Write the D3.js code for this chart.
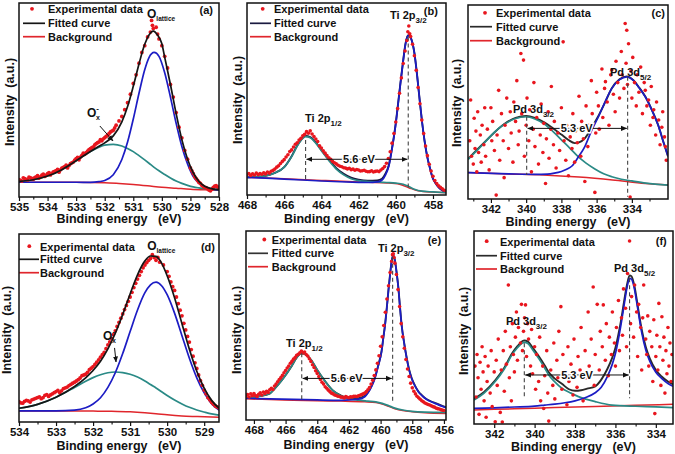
<!DOCTYPE html>
<html><head><meta charset="utf-8">
<script src="https://cdn.jsdelivr.net/npm/d3@7"></script>
<style>
html,body{margin:0;padding:0;background:#fff;}
svg{display:block;font-family:"Liberation Sans",Arial,Helvetica,sans-serif;font-weight:bold;}
</style></head><body>
<svg id="chart" width="675" height="454"></svg>
<script>
// ---------------- DATA (binding energy eV, intensity % of frame) ----------------
const aTicks=[535,534,533,532,531,530,529,528];
const aMinor=[534.5,533.5,532.5,531.5,530.5,529.5,528.5];
const aExp=[[535.0,9.0],[534.9,8.2],[534.8,9.5],[534.7,8.8],[534.6,9.9],[534.5,9.2],[534.4,10.4],[534.3,9.8],[534.2,11.2],[534.1,10.6],[534.0,12.0],[533.9,11.4],[533.8,12.9],[533.7,13.6],[533.6,12.8],[533.5,14.9],[533.4,15.6],[533.3,15.0],[533.2,17.2],[533.1,18.0],[533.0,19.8],[532.9,19.2],[532.8,21.4],[532.7,22.0],[532.6,23.6],[532.5,24.9],[532.4,25.8],[532.3,27.5],[532.2,28.4],[532.1,29.0],[532.0,30.6],[531.9,31.8],[531.8,33.5],[531.7,34.4],[531.6,37.0],[531.5,39.2],[531.4,41.5],[531.3,45.0],[531.2,48.6],[531.1,53.0],[531.0,58.5],[530.9,63.0],[530.8,69.0],[530.7,74.5],[530.6,78.0],[530.5,82.5],[530.4,85.0],[530.36,91.0],[530.33,88.5],[530.3,86.8],[530.2,87.5],[530.15,84.0],[530.1,81.5],[530.0,78.0],[529.9,72.5],[529.8,66.5],[529.7,58.0],[529.6,51.5],[529.5,43.5],[529.4,36.0],[529.3,30.5],[529.2,24.0],[529.1,19.5],[529.0,15.0],[528.9,12.0],[528.8,9.5],[528.7,7.5],[528.6,6.0],[528.5,5.0],[528.4,4.2],[528.3,3.2],[528.2,5.0],[528.1,5.8],[528.0,4.6],
[534.95,8.6],[534.85,9.9],[534.75,9.1],[534.65,10.2],[534.55,9.6],[534.45,10.0],[534.35,11.0],[534.25,10.4],[534.15,11.8],[534.05,11.2],[533.95,12.6],[533.85,12.2],[533.75,13.2],[533.65,14.2],[533.55,14.0],[533.45,15.2],[533.35,16.4],[533.25,16.2],[533.15,17.6],[533.05,19.0],[532.95,20.4],[532.85,20.6],[532.75,22.6],[532.65,22.8],[532.55,24.4],[532.45,25.4],[532.35,26.8],[532.25,28.0],[532.15,29.6],[532.05,30.0],[531.95,31.2],[531.85,32.6],[531.75,34.0],[531.65,35.6],[528.95,13.5],[528.85,10.5],[528.75,8.5],[528.65,7.0],[528.55,5.4],[528.45,4.8],[528.35,3.6],[528.25,4.0],[528.15,5.6],[528.05,5.2]];
const aBg=[[535,7.6],[534,7.6],[533,7.6],[532.5,7.5],[532,7.3],[531.5,7.0],[531,6.5],[530.5,5.8],[530,5.0],[529.5,4.5],[529,4.0],[528.5,3.7],[528,3.5]];
const aPeakX=[[535,8.1],[534.5,8.9],[534,10.8],[533.5,14.1],[533,18.7],[532.5,23.5],[532.2,25.7],[532,26.7],[531.7,27.1],[531.4,26.3],[531.2,25.0],[531,23.4],[530.8,21.3],[530.6,19.1],[530.45,17.4],[530.27,15.3],[530.1,13.5],[529.9,11.6],[529.7,9.8],[529.5,8.2],[529.3,7.0],[529.1,6.0],[528.9,5.2],[528.7,4.7],[528.5,4.3],[528.2,3.9],[528,3.7]];
const aPeakL=[[535,7.6],[533,7.6],[532.5,7.5],[532.2,7.9],[532,8.5],[531.7,11.5],[531.4,19.3],[531.2,28.3],[531,40.2],[530.8,53.5],[530.6,65.6],[530.45,71.9],[530.27,74.5],[530.1,72.5],[529.9,64],[529.7,51.5],[529.5,38],[529.3,26],[529.1,17],[528.9,10.5],[528.7,7],[528.5,5],[528.2,3.9],[528,3.6]];
const aFit=[[535,8.1],[534.5,8.9],[534,10.8],[533.5,14.1],[533,18.7],[532.5,23.5],[532.2,26.2],[532,27.9],[531.7,31.5],[531.4,38.7],[531.2,46.6],[531,57.1],[530.8,68.6],[530.6,78.7],[530.45,83.5],[530.3,85.5],[530.15,83.5],[530,79],[529.9,72],[529.7,58],[529.5,43],[529.3,29.5],[529.1,19.5],[528.9,12.5],[528.7,8],[528.5,5.5],[528.2,4.1],[528,3.8]];

const bTicks=[468,466,464,462,460,458];
const bMinor=[467,465,463,461,459];
const bExp=[[468.0,10.5],[467.9,11.2],[467.8,10.2],[467.7,11.0],[467.6,10.4],[467.5,11.4],[467.4,10.6],[467.3,11.2],[467.2,10.8],[467.1,11.6],[467.0,11.0],[466.9,12.0],[466.8,11.4],[466.7,12.4],[466.6,12.8],[466.5,13.5],[466.4,14.5],[466.3,15.2],[466.2,16.4],[466.1,17.5],[466.0,18.4],[465.9,19.8],[465.8,21.0],[465.7,22.6],[465.6,23.5],[465.5,25.0],[465.4,26.4],[465.3,27.2],[465.2,28.6],[465.1,29.5],[465.0,30.8],[464.9,31.6],[464.8,33.0],[464.7,32.2],[464.6,33.4],[464.5,31.8],[464.4,30.5],[464.3,29.2],[464.2,27.8],[464.1,25.6],[464.0,24.5],[463.9,23.0],[463.8,21.8],[463.7,20.5],[463.6,19.4],[463.5,18.6],[463.4,17.5],[463.3,16.8],[463.2,16.2],[463.1,15.5],[463.0,15.0],[462.9,14.7],[462.8,14.2],[462.7,14.0],[462.6,13.6],[462.5,13.9],[462.4,13.2],[462.3,13.5],[462.2,12.9],[462.1,13.3],[462.0,13.0],[461.9,12.5],[461.8,12.6],[461.7,12.9],[461.6,12.4],[461.5,12.1],[461.4,12.2],[461.3,12.6],[461.2,12.0],[461.1,12.3],[461.0,12.5],[460.9,12.2],[460.8,13.0],[460.7,13.8],[460.6,14.8],[460.5,16.5],[460.4,19.0],[460.3,22.5],[460.2,27.0],[460.1,32.0],[460.0,38.0],[459.9,45.0],[459.8,53.0],[459.7,61.0],[459.6,68.5],[459.5,75.0],[459.4,80.5],[459.35,85.0],[459.3,88.0],[459.25,84.0],[459.2,82.5],[459.1,78.5],[459.0,72.5],[458.9,65.0],[458.8,56.0],[458.7,47.5],[458.6,39.0],[458.5,32.0],[458.4,25.5],[458.3,20.5],[458.2,16.0],[458.1,12.5],[458.0,9.8],[457.9,7.5],[457.8,6.0],[457.7,4.8],[457.6,4.0],[457.5,3.2],[457.4,2.5],[457.3,2.2]];
const bBg=[[468,9.2],[466,8.5],[464,7.6],[462,6.8],[460.5,6.3],[459.8,5.6],[459.3,3.8],[458.8,2.2],[458,1.5],[457.3,1.2]];
const bPeak12=[[468,9.2],[467,10.0],[466.5,11.5],[466,14.5],[465.6,20],[465.3,25.5],[465.0,29.5],[464.85,30.4],[464.6,29.8],[464.3,27],[464.0,23],[463.6,18],[463.2,13.5],[462.8,10.5],[462.4,8.5],[462,7.5],[461.5,7.0],[461,6.8],[460.5,6.5],[460,6.2],[459.6,5.6],[459.3,4.4],[459.0,3.0],[458.6,2.0],[458,1.6],[457.3,1.2]];
const bPeak32=[[468,9.2],[467,8.8],[466,8.3],[465,7.8],[464,7.3],[463,6.9],[462,6.6],[461.5,6.5],[461,6.8],[460.74,7.8],[460.55,10.5],[460.38,14.8],[460.2,24],[460.02,35.6],[459.88,47],[459.75,58],[459.6,70],[459.48,78.5],[459.33,83],[459.18,81.5],[459.0,74],[458.85,62],[458.7,48],[458.58,37.5],[458.45,28],[458.31,20],[458.15,13.5],[458.04,9.5],[457.85,6],[457.68,3.8],[457.5,2.4],[457.3,1.7]];
const bFit=[[468,9.2],[467,10.0],[466.5,11.5],[466,14.5],[465.6,20.2],[465.3,25.8],[465.0,29.8],[464.85,30.7],[464.6,30.2],[464.3,27.4],[464.0,23.5],[463.6,18.5],[463.2,14],[462.8,11],[462.4,9.0],[462,8],[461.5,7.5],[461,7.6],[460.74,8.5],[460.55,11.2],[460.38,15.4],[460.2,24.5],[460.02,36],[459.88,47.3],[459.75,58.3],[459.6,70.2],[459.48,78.7],[459.33,83.2],[459.18,81.6],[459.0,74],[458.85,62],[458.7,48],[458.58,37.5],[458.45,28],[458.31,20],[458.15,13.5],[458.04,9.5],[457.85,6],[457.68,3.8],[457.5,2.4],[457.3,1.7]];

const cTicks=[342,340,338,336,334];
const cMinor=[343,341,339,337,335,333];
const cExp=[[343.2,30],[343.15,51],[343.1,22],[343.0,18],[342.95,41.6],[342.9,26],[342.85,35],[342.8,14],[342.75,45],[342.7,24],[342.6,33],[342.55,19],[342.5,38],[342.4,28],[342.35,47],[342.3,22],[342.2,36],[342.1,15],[342.0,47],[341.95,30],[341.9,40],[341.8,25],[341.7,2],[341.65,33],[341.56,56],[341.5,20],[341.4,44],[341.3,30],[341.25,11],[341.2,38],[341.1,52],[341.0,26],[340.9,45],[340.85,34],[340.75,19],[340.7,50],[340.6,40],[340.53,61],[340.45,28],[340.4,35],[340.3,75],[340.25,44],[340.15,71.6],[340.1,22],[340.0,38],[339.95,52],[339.85,30],[339.8,46],[339.7,14],[339.6,36],[339.56,60],[339.5,27],[339.4,42],[339.3,18],[339.2,33],[339.15,49],[339.05,24],[339.0,39],[338.9,8],[338.85,31],[338.75,45],[338.7,21],[338.6,36],[338.57,58],[338.45,28],[338.4,40],[338.3,16],[338.2,34],[338.1,25],[338.0,47],[337.9,81],[337.85,30],[337.75,20],[337.7,38],[337.6,12],[337.5,32],[337.4,26],[337.35,44],[337.25,19],[337.2,35],[337.1,29],[337.0,53],[336.9,22],[336.85,40],[336.75,31],[336.67,9],[336.6,48],[336.5,27],[336.45,38],[336.3,61],[336.25,44],[336.1,3.4],[336.05,34],[336.0,55],[335.9,48],[335.85,36],[335.7,67],[335.65,42],[335.55,57],[335.5,60.5],[335.4,50],[335.3,38],[335.2,64],[335.14,66.5],[335.05,54],[334.95,45],[334.9,71],[334.8,60],[334.7,52],[334.6,76],[334.55,64],[334.45,57],[334.38,90.5],[334.33,70],[334.29,87],[334.25,59],[334.19,80],[334.1,1],[334.05,66],[334.0,52],[333.95,73],[333.85,60],[333.75,48],[333.7,64],[333.6,55],[333.5,68],[333.4,44],[333.3,60],[333.24,56],[333.15,48],[333.05,51],[332.95,38],[332.9,58],[332.8,42],[332.76,46],[332.65,33],[332.6,50],[332.48,40.7],[332.4,28],[332.3,37],[332.25,45],[332.15,32],[332.1,27],[332.05,20]];
const cBg=[[343.3,13.6],[341,12.9],[339,12.4],[337,11.3],[335.1,9.8],[333.24,8.0],[331.95,7.2]];
const cPeak32=[[343.3,20.4],[342.9,24],[342.4,28.7],[341.8,34.5],[341.24,38.5],[340.6,41.5],[340.0,42.4],[339.5,41.2],[338.95,38.5],[338.5,35],[338.0,30.5],[337.5,26],[337.05,21.8],[336.6,18.5],[336.1,15.5],[335.6,13],[335.14,11.5],[334.6,10.2],[334,9.3],[333.2,8.2],[331.95,7.2]];
const cPeak52=[[343.3,13.6],[341,13.0],[339.5,12.7],[338.8,12.8],[338.4,13.3],[338.0,14.2],[337.7,15.3],[337.4,17.0],[337.05,21.5],[336.67,27],[336.3,35],[335.9,42.4],[335.5,50.5],[335.14,57],[334.7,61.5],[334.29,63],[333.9,61],[333.6,57.5],[333.24,52.7],[332.85,45.5],[332.48,37.3],[332.2,29],[331.95,22]];
const cFit=[[343.3,20.6],[342.4,28.9],[341.24,38.7],[340.6,41.8],[340.0,42.8],[339.5,41.8],[338.95,39.4],[338.5,36.6],[338.0,33.2],[337.6,30.4],[337.24,28.8],[337.0,29.2],[336.67,31.3],[336.3,36.5],[335.9,42.8],[335.5,50.2],[335.14,57.1],[334.7,61.7],[334.29,63.2],[333.9,61.1],[333.6,57.6],[333.24,52.8],[332.85,45.6],[332.48,37.4],[332.2,29.1],[331.95,22]];

const dTicks=[534,533,532,531,530,529];
const dMinor=[533.5,532.5,531.5,530.5,529.5];
const dExp=[[534.0,10.8],[533.9,10.0],[533.8,11.5],[533.7,10.6],[533.6,12.2],[533.5,13.0],[533.4,12.4],[533.3,14.2],[533.2,13.6],[533.1,15.0],[533.0,16.2],[532.9,15.6],[532.8,17.8],[532.7,18.6],[532.6,20.0],[532.5,21.2],[532.4,22.5],[532.3,24.6],[532.2,25.4],[532.1,27.8],[532.0,29.5],[531.9,31.8],[531.8,34.5],[531.7,37.0],[531.6,41.0],[531.5,44.5],[531.4,48.5],[531.3,53.0],[531.2,57.5],[531.1,62.0],[531.0,66.5],[530.9,71.5],[530.8,76.0],[530.7,80.0],[530.6,83.5],[530.5,86.0],[530.4,89.0],[530.35,87.5],[530.3,86.0],[530.25,87.5],[530.2,85.0],[530.1,83.5],[530.0,80.0],[529.9,74.5],[529.8,70.0],[529.7,63.0],[529.6,56.5],[529.5,49.0],[529.4,42.5],[529.3,35.0],[529.2,28.5],[529.1,22.0],[529.0,17.0],[528.9,13.0],[528.8,10.5],[528.7,8.5],[528.6,7.5],
[533.95,10.2],[533.85,11.0],[533.75,11.2],[533.65,11.8],[533.55,12.6],[533.45,13.4],[533.35,13.0],[533.25,14.6],[533.15,14.4],[533.05,15.6],[532.95,16.8],[532.85,16.6],[532.75,18.2],[532.65,19.4],[532.55,20.6],[532.45,21.8],[532.35,23.4],[532.25,25.0],[532.15,26.4],[532.05,28.6],[531.95,30.6],[531.85,33.0],[531.75,35.8],[531.65,39.0],[531.55,42.6],[531.45,46.5],[531.35,50.8],[531.25,55.2],[531.15,59.8],[531.05,64.2],[530.95,69.0],[530.85,73.8],[530.75,78.0],[530.65,82.0],[530.55,84.8],[530.45,87.0],[529.95,77.5],[529.85,72.0],[529.75,66.5],[529.65,59.5],[529.55,52.5],[529.45,45.5],[529.35,38.5],[529.25,31.5],[529.15,25.0],[529.05,19.5],[528.95,15.0],[528.85,11.8],[528.75,9.5],[528.65,8.0]];
const dBg=[[534,5.9],[533,5.9],[532,5.8],[531.5,5.7],[531,5.4],[530.6,4.9],[530.3,4.4],[530,3.8],[529.6,3.2],[529.2,2.9],[528.6,2.5]];
const dPeakX=[[534,7.3],[533.5,9.4],[533,13.2],[532.5,18.4],[532.2,21.7],[532,23.6],[531.8,25.1],[531.6,26.2],[531.4,26.6],[531.2,26.3],[531,25.4],[530.8,23.9],[530.6,21.8],[530.45,19.9],[530.3,18.1],[530.15,16.1],[530,14.1],[529.8,11.7],[529.6,9.6],[529.4,7.8],[529.2,6.4],[529,5.3],[528.8,4.3],[528.6,3.6]];
const dPeakL=[[534,5.9],[533,5.9],[532.5,6.3],[532.2,7.6],[532,9.6],[531.8,12.9],[531.6,18.4],[531.4,26.2],[531.2,36.4],[531,48.1],[530.8,59.6],[530.6,68.8],[530.45,73.0],[530.3,74.4],[530.15,72.5],[530,67.7],[529.8,57.9],[529.6,45.9],[529.4,33.9],[529.2,23.5],[529,15.5],[528.8,9.8],[528.6,6.3]];
const dFit=[[534,7.3],[533.5,9.4],[533,13.2],[532.5,18.9],[532.2,23.5],[532,27.4],[531.8,32.3],[531.6,38.9],[531.4,47.2],[531.2,57.2],[531,68.1],[530.8,78.3],[530.6,85.7],[530.45,88.3],[530.3,88.1],[530.15,84.5],[530,77.8],[529.8,66.1],[529.6,52.3],[529.4,38.7],[529.2,27.0],[529,18.0],[528.8,11.5],[528.6,7.4]];

const eTicks=[468,466,464,462,460,458,456];
const eMinor=[467,465,463,461,459,457];
const eExp=[[468.5,12.5],[468.4,13.5],[468.3,12.2],[468.2,13.8],[468.1,12.8],[468.0,14.0],[467.9,13.0],[467.8,12.4],[467.7,13.6],[467.6,14.4],[467.5,13.2],[467.4,14.8],[467.3,14.0],[467.2,15.2],[467.1,14.6],[467.0,16.0],[466.9,16.8],[466.8,16.2],[466.7,18.0],[466.6,19.0],[466.5,20.2],[466.4,21.4],[466.3,22.4],[466.2,23.6],[466.1,25.0],[466.0,26.2],[465.9,27.5],[465.8,28.6],[465.7,30.0],[465.6,31.0],[465.5,32.2],[465.4,33.0],[465.3,34.2],[465.2,34.8],[465.1,35.6],[465.0,36.5],[464.9,35.5],[464.8,36.0],[464.7,34.6],[464.6,33.8],[464.5,32.4],[464.4,31.0],[464.3,29.2],[464.2,27.8],[464.1,26.0],[464.0,24.6],[463.9,23.0],[463.8,21.4],[463.7,20.0],[463.6,19.0],[463.5,17.6],[463.4,16.8],[463.3,15.8],[463.2,15.0],[463.1,14.2],[463.0,13.8],[462.9,13.2],[462.8,13.0],[462.7,12.6],[462.6,12.4],[462.5,12.1],[462.4,12.0],[462.3,11.7],[462.2,12.4],[462.1,12.0],[462.0,11.8],[461.9,12.3],[461.8,12.2],[461.7,12.5],[461.6,12.6],[461.5,12.4],[461.4,12.8],[461.3,13.1],[461.2,13.4],[461.1,13.8],[461.0,14.2],[460.9,15.0],[460.8,16.0],[460.7,17.2],[460.6,19.0],[460.5,21.0],[460.4,23.5],[460.3,26.5],[460.2,30.0],[460.1,34.0],[460.0,39.0],[459.9,44.0],[459.8,50.0],[459.7,57.0],[459.6,64.0],[459.5,71.0],[459.4,78.0],[459.3,84.0],[459.25,87.5],[459.2,88.0],[459.15,86.0],[459.1,83.0],[459.0,77.0],[458.9,69.0],[458.8,60.0],[458.7,51.0],[458.6,44.0],[458.5,38.0],[458.4,32.0],[458.3,27.0],[458.2,23.0],[458.1,19.5],[458.0,17.0],[457.9,15.2],[457.8,13.8],[457.7,12.6],[457.6,11.8],[457.5,11.0],[457.4,10.2],[457.3,9.6],[457.2,9.0],[457.1,8.6],[457.0,8.2],[456.9,7.9],[456.8,7.5],[456.7,7.1],[456.6,6.8],[456.5,6.3],[456.4,6.0],[456.3,5.8],[456.2,5.5],[456.1,5.2],[456.0,5.0]];
const eBg=[[468.5,11.2],[467,10.8],[465.5,10.5],[464,10.2],[462.5,10.0],[461,9.6],[460.3,9.2],[459.9,8.4],[459.5,7.2],[459.1,6.0],[458.6,5.0],[458,4.4],[457.2,3.9],[455.87,3.5]];
const ePeak12=[[468.5,11.5],[467.7,12.5],[467,14],[466.67,16.8],[466.2,21.5],[465.62,28.5],[465.3,33],[465,35.3],[464.7,34.5],[464.36,31.5],[464,26.5],[463.5,20.5],[463,15.5],[462.46,12.5],[462,11.2],[461.4,10.5],[460.8,10],[460.3,9.6],[459.9,8.8],[459.5,7.6],[459.1,6.3],[458.6,5.3],[458,4.6],[457.2,4.2],[455.87,4.0]];
const ePeak32=[[468.5,11.5],[467,11.2],[465.5,10.9],[464,10.6],[462.5,10.4],[461.4,11],[461,12.3],[460.78,14.5],[460.55,18],[460.36,22],[460.15,28.5],[459.94,36],[459.83,43],[459.72,50],[459.61,59],[459.51,68],[459.4,77],[459.3,84],[459.2,87],[459.1,84.5],[458.99,78],[458.88,70],[458.78,60],[458.67,50],[458.5,40],[458.35,32.6],[458.2,26.5],[458.04,22],[457.83,18],[457.62,15],[457.4,13],[457.2,11.5],[456.9,10],[456.57,8.8],[455.87,6.5]];
const eFit=[[468.5,11.5],[467.7,12.5],[467,14],[466.67,16.8],[466.2,21.5],[465.62,28.5],[465.3,33],[465,35.3],[464.7,34.5],[464.36,31.5],[464,26.5],[463.5,20.5],[463,15.5],[462.46,12.8],[462,11.6],[461.4,11.6],[461,12.8],[460.78,15],[460.55,18.5],[460.36,22.5],[460.15,29],[459.94,36.5],[459.83,43.5],[459.72,50.5],[459.61,59.3],[459.51,68.3],[459.4,77.2],[459.3,84.2],[459.2,87.2],[459.1,84.7],[458.99,78.2],[458.88,70.2],[458.78,60.2],[458.67,50.2],[458.5,40.2],[458.35,32.8],[458.2,26.7],[458.04,22.2],[457.83,18.2],[457.62,15.2],[457.4,13.2],[457.2,11.7],[456.9,10.2],[456.57,9],[455.87,6.7]];

const fTicks=[342,340,338,336,334];
const fMinor=[341,339,337,335];
const fExp=[[342.95,30],[342.9,14],[342.85,36],[342.8,24],[342.75,5],[342.7,32],[342.65,18],[342.6,40],[342.55,27],[342.5,12],[342.45,35],[342.4,3.5],[342.35,22],[342.3,30],[342.2,16],[342.15,38],[342.1,9],[342.0,27],[341.95,1.2],[341.9,33],[341.85,20],[341.8,44],[341.7,6],[341.65,28],[341.6,1],[341.55,38],[341.5,17],[341.45,48],[341.4,31],[341.3,72],[341.25,24],[341.2,40],[341.15,12],[341.1,52],[341.05,36],[341.0,27],[340.95,45],[340.9,58],[340.85,33],[340.8,50],[340.7,42],[340.65,62],[340.6,38],[340.55,48],[340.5,55],[340.45,61.7],[340.4,35],[340.35,52],[340.3,44],[340.2,30],[340.15,49],[340.1,26],[340.0,40],[339.95,18],[339.9,36],[339.8,22],[339.75,45],[339.7,12],[339.6,30],[339.55,8],[339.5,25],[339.4,38],[339.35,16],[339.3,1.5],[339.2,28],[339.1,20],[339.05,42],[339.0,13],[338.9,33],[338.85,24],[338.8,48],[338.7,60.8],[338.65,18],[338.6,36],[338.5,27],[338.4,10],[338.35,40],[338.3,22],[338.2,31],[338.1,15],[338.05,44],[338.0,26],[337.9,19],[337.85,35],[337.75,28],[337.7,50],[337.6,12],[337.5,38],[337.45,24],[337.35,58],[337.3,30],[337.2,44],[337.1,71],[337.05,20],[337.0,36],[336.9,62],[336.8,28],[336.75,48],[336.65,40],[336.6,61.7],[336.5,33],[336.45,52],[336.35,25],[336.3,45],[336.2,36],[336.15,58],[336.05,42],[336.0,30],[335.95,50],[335.85,64],[335.8,38],[335.7,55],[335.65,46],[335.6,70],[335.5,60],[335.45,40],[335.4,78],[335.3,94.8],[335.25,52],[335.2,66],[335.1,45],[335.05,72],[334.95,58],[334.9,35],[334.85,62],[334.75,50],[334.7,28],[334.65,55],[334.6,72],[334.5,44],[334.45,36],[334.4,56],[334.35,30],[334.3,48],[334.2,40],[334.15,22],[334.1,54],[334.05,5.4],[334.0,35],[333.95,46],[333.9,28],[333.85,62.5],[333.8,40],[333.75,20],[333.7,55.6],[333.65,33],[333.6,45],[333.55,16],[333.5,38],[333.45,26],[333.4,50],[333.35,30],[333.3,42],[333.25,22],[333.2,36]];
const fBg=[[343,7.3],[341,7.9],[339,8.5],[337,9.1],[335,9.7],[333.15,10.2]];
const fPeak32=[[343,12.4],[342.5,16],[341.95,22],[341.5,28.5],[341.12,35.8],[340.85,39.5],[340.6,42],[340.5,42.3],[340.35,41.8],[340.1,38.5],[339.8,34],[339.5,29],[339.3,25.4],[339.0,21.8],[338.65,18.5],[338.2,16],[337.83,14.2],[337.0,11.6],[336.17,9.8],[335,9.2],[334,8.9],[333.15,8.5]];
const fPeak52=[[343,8.1],[342,8.4],[341,8.8],[340,9.3],[339.5,9.8],[339,10.3],[338.5,11.0],[338,12.0],[337.5,13.6],[337,16.2],[336.7,19.0],[336.4,24.5],[336.17,30.5],[336.0,36.5],[335.85,44],[335.7,53],[335.55,63],[335.43,70.5],[335.3,75.5],[335.2,75.0],[335.05,69.5],[334.9,60],[334.7,47.5],[334.5,38.5],[334.3,32.5],[334.0,26.8],[333.7,23.5],[333.4,21],[333.15,19.5]];
const fFit=[[343,13],[342.5,16.6],[341.95,22.6],[341.5,29.1],[341.12,36.5],[340.85,40.3],[340.6,43],[340.5,43.3],[340.35,42.8],[340.1,39.6],[339.8,35.2],[339.5,30.3],[339.3,26.8],[339.0,23.5],[338.65,20.8],[338.3,18.0],[338.0,17.2],[337.7,17.5],[337.4,18.3],[337.0,19.5],[336.7,23],[336.4,28.5],[336.17,34],[336.0,39.5],[335.85,46.5],[335.7,55],[335.55,65],[335.43,72],[335.3,77],[335.2,76.5],[335.05,71],[334.9,61.5],[334.7,49],[334.5,40],[334.3,34],[334.0,28],[333.7,24.5],[333.4,22],[333.15,20.5]];

const legendLabels=["Experimental data","Fitted curve","Background"];
const xTitle="Binding energy   (eV)";
const yTitle="Intensity  (a.u.)";

// ---------------- STYLE / LAYOUT ----------------
const RED="#e8161e", BGRED="#e0262c", BLUE="#1c1cc4", TEAL="#2a8a86", BLACK="#151515";

const panels=[
 {key:"(a)",x0:19,x1:219,y0:3,y1:197,dom:[535,528],ticks:aTicks,minor:aMinor,exp:aExp,bg:aBg,p1:aPeakX,p2:aPeakL,fit:aFit,fitColor:BLACK,order:"fitTop",r:1.9,
  leg:{dot:32,l0:23,l1:45,tx:48,rows:[9.3,23.3,36.7]},yt:[13.5,102],xt:223,
  tag:[528.21,94.3],
  labels:[{e:530.52,v:92.3,main:"O",sub:"lattice",ms:12,ss:6.5}],
  ox:{e:532.62,v:41.2}, arrow:[[532.17,36.6],[531.71,28.9]]},
 {key:"(b)",x0:247,x1:446,y0:3,y1:195,dom:[468,457.3],ticks:bTicks,minor:bMinor,exp:bExp,bg:bBg,p1:bPeak12,p2:bPeak32,fit:bFit,fitColor:"#1a1a40",order:"dotsTop",r:1.8,
  leg:{dot:262.7,l0:250,l1:271,tx:274,rows:[9.3,23.3,36.7]},yt:[242,100],xt:223,
  tag:[457.74,93.5],
  labels:[{e:460.31,v:91.7,main:"Ti 2p",sub:"3/2",ms:11,ss:8},{e:464.88,v:38,main:"Ti 2p",sub:"1/2",ms:11,ss:8}],
  dashes:[[464.85,28.6,6.8],[459.33,82.5,3.5]],split:{v:18.6,text:"5.6 eV",e:461.98}},
 {key:"(c)",x0:468,x1:668,y0:5,y1:199,dom:[343.3,331.95],ticks:cTicks,minor:cMinor,exp:cExp,bg:cBg,p1:cPeak32,p2:cPeak52,fit:cFit,fitColor:"#2a2a2a",order:"dotsTop",r:1.8,
  leg:{dot:485,l0:470,l1:492,tx:496,rows:[13.3,26.7,40.7]},yt:[461,103],xt:226,
  tag:[332.12,93.8],
  labels:[{e:340.75,v:44.3,main:"Pd 3d",sub:"3/2",ms:11,ss:8},{e:335.24,v:63.4,main:"Pd 3d",sub:"5/2",ms:11,ss:8}],
  dashes:[[339.97,42.4,12.4],[334.24,63,1.2]],split:{v:36.4,text:"5.3 eV",e:337.13}},
 {key:"(d)",x0:19,x1:219,y0:234,y1:422,dom:[534,528.6],ticks:dTicks,minor:dMinor,exp:dExp,bg:dBg,p1:dPeakX,p2:dPeakL,fit:dFit,fitColor:BLACK,order:"fitTop",r:1.9,
  leg:{dot:29.3,l0:19,l1:39,tx:40,rows:[246.7,259.3,272.7]},yt:[11,330],xt:450,
  tag:[528.71,91.1],
  labels:[{e:530.54,v:91.5,main:"O",sub:"lattice",ms:12,ss:6.5}],
  ox:{e:531.73,v:43.6}, arrow:[[531.42,39.4],[531.38,31.9]]},
 {key:"(e)",x0:246,x1:446,y0:231,y1:420,dom:[468.5,455.87],ticks:eTicks,minor:eMinor,exp:eExp,bg:eBg,p1:ePeak12,p2:ePeak32,fit:eFit,fitColor:"#333",order:"dotsTop",r:1.8,
  leg:{dot:264.3,l0:248,l1:268,tx:271.7,rows:[240,253.3,266.7]},yt:[241,330],xt:449,
  tag:[456.18,93.1],
  labels:[{e:460.17,v:88.9,main:"Ti 2p",sub:"3/2",ms:11,ss:8},{e:465.97,v:38.6,main:"Ti 2p",sub:"1/2",ms:11,ss:8}],
  dashes:[[464.98,35.3,10.6],[459.24,86.4,9.7]],split:{v:22,text:"5.6 eV",e:462.14}},
 {key:"(f)",x0:474,x1:673,y0:231,y1:424,dom:[343,333.15],ticks:fTicks,minor:fMinor,exp:fExp,bg:fBg,p1:fPeak32,p2:fPeak52,fit:fFit,fitColor:"#2a2a2a",order:"dotsTop",r:1.8,
  leg:{dot:486.7,l0:476,l1:497,tx:500,rows:[241.7,255.7,269]},yt:[467.5,331],xt:451,
  tag:[333.46,92.7],
  labels:[{e:336.07,v:78.8,main:"Pd 3d",sub:"5/2",ms:11,ss:8},{e:341.42,v:51.3,main:"Pd 3d",sub:"3/2",ms:11,ss:8}],
  dashes:[[340.51,41.8,14.2],[335.3,75.5,13.3]],split:{v:25.4,text:"5.3 eV",e:337.9}}
];

// ---------------- RENDER ----------------
const svg=d3.select("#chart");
svg.append("rect").attr("width",675).attr("height",454).attr("fill","#fff");
const defs=svg.append("defs");
defs.append("marker").attr("id","arr").attr("viewBox","0 0 8 8").attr("refX",7.5).attr("refY",4)
  .attr("markerWidth",6).attr("markerHeight",6).attr("markerUnits","userSpaceOnUse").attr("orient","auto-start-reverse")
  .append("path").attr("d","M0,0.6 L8,4 L0,7.4 Z").attr("fill","#111");

panels.forEach((p,i)=>{
  const x=d3.scaleLinear().domain(p.dom).range([p.x0,p.x1]);
  const y=d3.scaleLinear().domain([0,100]).range([p.y1,p.y0]);
  const g=svg.append("g");
  const cid="clip"+i;
  defs.append("clipPath").attr("id",cid).append("rect").attr("x",p.x0).attr("y",p.y0).attr("width",p.x1-p.x0).attr("height",p.y1-p.y0);
  const plot=g.append("g").attr("clip-path",`url(#${cid})`);
  const line=d3.line().x(d=>x(d[0])).y(d=>y(d[1])).curve(d3.curveMonotoneX);
  const drawLine=(data,color,w)=>plot.append("path").datum(data).attr("d",line).attr("fill","none").attr("stroke",color).attr("stroke-width",w||1.7);
  const drawDots=()=>plot.append("g").selectAll("circle").data(p.exp).join("circle")
     .attr("cx",d=>x(d[0])).attr("cy",d=>y(d[1])).attr("r",p.r).attr("fill",RED);

  if(p.order==="fitTop"){
    drawLine(p.bg,BGRED,1.5); drawLine(p.p1,TEAL,1.7); drawLine(p.p2,BLUE,1.7);
    drawDots(); drawLine(p.fit,p.fitColor,1.7);
  } else {
    drawLine(p.bg,BGRED,1.5); drawLine(p.fit,p.fitColor,1.9); drawLine(p.p1,TEAL,1.7); drawLine(p.p2,BLUE,1.7);
    drawDots();
  }

  // dashed guides and split arrow
  if(p.dashes){
    p.dashes.forEach(dd=>{
      g.append("line").attr("x1",x(dd[0])).attr("x2",x(dd[0])).attr("y1",y(dd[1])).attr("y2",y(dd[2]))
        .attr("stroke","#444").attr("stroke-width",1.1).attr("stroke-dasharray","4,3");
    });
    const xa=x(p.dashes[0][0]), xb=x(p.dashes[1][0]), ys=y(p.split.v);
    g.append("line").attr("x1",xa+1).attr("x2",xb-1).attr("y1",ys).attr("y2",ys)
      .attr("stroke","#111").attr("stroke-width",1).attr("marker-start","url(#arr)").attr("marker-end","url(#arr)");
    g.append("text").attr("x",x(p.split.e)).attr("y",ys+4).attr("text-anchor","middle").attr("font-size",11)
      .attr("fill","#111").attr("stroke","#fff").attr("stroke-width",3).attr("paint-order","stroke").text(p.split.text);
  }
  if(p.arrow){
    g.append("line").attr("x1",x(p.arrow[0][0])).attr("y1",y(p.arrow[0][1])).attr("x2",x(p.arrow[1][0])).attr("y2",y(p.arrow[1][1]))
      .attr("stroke","#111").attr("stroke-width",1).attr("marker-end","url(#arr)");
  }
  if(p.ox){
    const t=g.append("text").attr("x",x(p.ox.e)).attr("y",y(p.ox.v)).attr("font-size",12).attr("fill","#111");
    t.append("tspan").text("O");
    t.append("tspan").attr("font-size",8).attr("dy",-6).text("-");
    t.append("tspan").attr("font-size",7).attr("dx",-3).attr("dy",9).text("x");
  }
  p.labels.forEach(l=>{
    const t=g.append("text").attr("x",x(l.e)).attr("y",y(l.v)).attr("font-size",l.ms).attr("fill","#111");
    t.append("tspan").text(l.main);
    t.append("tspan").attr("font-size",l.ss).attr("dy",l.ss*0.45).text(l.sub);
  });
  g.append("text").attr("x",x(p.tag[0])).attr("y",y(p.tag[1])).attr("text-anchor","end").attr("font-size",11).attr("fill","#111").text(p.key);

  // legend
  const L=p.leg;
  g.append("circle").attr("cx",L.dot).attr("cy",L.rows[0]-0.5).attr("r",1.9).attr("fill",RED);
  g.append("line").attr("x1",L.l0).attr("x2",L.l1).attr("y1",L.rows[1]).attr("y2",L.rows[1]).attr("stroke",p.fitColor).attr("stroke-width",1.7);
  g.append("line").attr("x1",L.l0).attr("x2",L.l1).attr("y1",L.rows[2]).attr("y2",L.rows[2]).attr("stroke",BGRED).attr("stroke-width",1.7);
  legendLabels.forEach((s,k)=>g.append("text").attr("x",L.tx).attr("y",L.rows[k]+4).attr("font-size",11).attr("fill","#111").text(s));

  // axes
  const ax=g.append("g").attr("transform",`translate(0,${p.y1})`)
    .call(d3.axisBottom(x).tickValues(p.ticks).tickSize(4).tickPadding(2).tickFormat(d3.format("d")));
  ax.select(".domain").remove();
  ax.selectAll("line").attr("stroke","#111").attr("stroke-width",1.2);
  ax.selectAll("text").attr("font-size",11.5).attr("fill","#111");
  const mx=g.append("g").attr("transform",`translate(0,${p.y1})`)
    .call(d3.axisBottom(x).tickValues(p.minor).tickSize(2.5).tickFormat(""));
  mx.select(".domain").remove();
  mx.selectAll("line").attr("stroke","#111").attr("stroke-width",1.1);
  ax.attr("font-family",null); mx.attr("font-family",null);

  g.append("rect").attr("x",p.x0).attr("y",p.y0).attr("width",p.x1-p.x0).attr("height",p.y1-p.y0)
    .attr("fill","none").attr("stroke","#111").attr("stroke-width",1.5);

  g.append("text").attr("x",(p.x0+p.x1)/2).attr("y",p.xt).attr("text-anchor","middle").attr("font-size",12.5)
    .attr("fill","#111").style("white-space","pre").text(xTitle);
  g.append("text").attr("transform",`translate(${p.yt[0]},${p.yt[1]}) rotate(-90)`).attr("text-anchor","middle")
    .attr("font-size",12.5).attr("fill","#111").style("white-space","pre").text(yTitle);
});
</script></body></html>
